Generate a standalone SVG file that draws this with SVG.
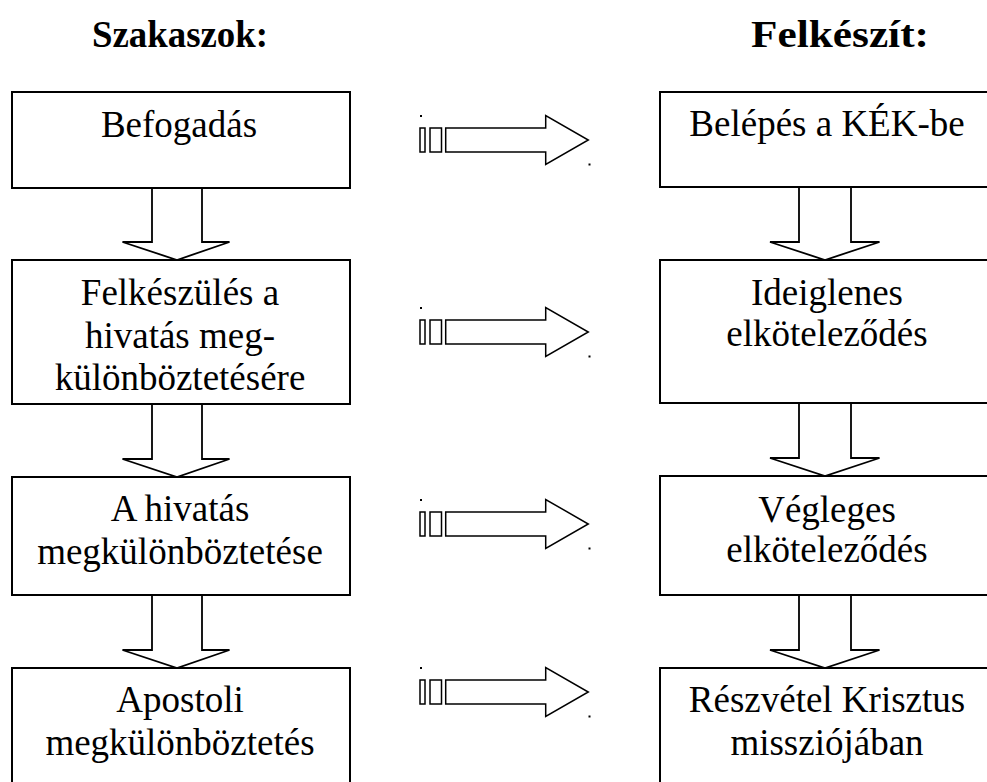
<svg xmlns="http://www.w3.org/2000/svg" width="987" height="782" viewBox="0 0 987 782">
<style>
.box{fill:#fff;stroke:#000;stroke-width:2}
.t{font-family:"Liberation Serif","Times New Roman",serif;font-size:37px;fill:#000;text-anchor:middle}
.h{font-family:"Liberation Serif","Times New Roman",serif;font-size:38px;font-weight:bold;fill:#000;text-anchor:middle}
.dn{fill:#fff;stroke:#000;stroke-width:1.8;stroke-linejoin:miter}
.ra{fill:#fff;stroke:#000;stroke-width:1.5}
</style>
<defs>
<g id="rarrow">
<rect class="ra" x="420" y="-12" width="5" height="24"/>
<rect class="ra" x="430" y="-12" width="11.5" height="24"/>
<path class="ra" d="M445.7,-12 H545.7 V-24.5 L588.3,0 L545.7,24.5 V12 H445.7 Z"/>
<rect x="420" y="-25" width="2" height="2" fill="#000"/>
<rect x="588.5" y="23.5" width="2" height="2" fill="#000"/>
</g>
</defs>
<rect width="987" height="782" fill="#fff"/>
<text class="h" x="180" y="47" textLength="176" lengthAdjust="spacingAndGlyphs">Szakaszok:</text>
<text class="h" x="840" y="47" textLength="178" lengthAdjust="spacingAndGlyphs">Felkészít:</text>

<g id="connectors">
<path class="dn" d="M152,188 V242 H122.5 L177,260 L229.5,242 H202 V188"/>
<path class="dn" d="M152,404 V459 H122.5 L177,477 L229.5,459 H202 V404"/>
<path class="dn" d="M152,595 V650 H122.5 L177,668 L229.5,650 H202 V595"/>
<path class="dn" d="M799,187 V242 H770 L825,260 L879.5,242 H851 V187"/>
<path class="dn" d="M799,403 V458 H770 L825,476 L879.5,458 H851 V403"/>
<path class="dn" d="M799,595 V650 H770 L825,668 L879.5,650 H851 V595"/>
<use href="#rarrow" y="140"/>
<use href="#rarrow" y="332"/>
<use href="#rarrow" y="524"/>
<use href="#rarrow" y="692"/>
</g>

<g id="l1"><rect class="box" x="12" y="92" width="338" height="96"/><text class="t" x="179" y="137">Befogadás</text></g>
<g id="l2"><rect class="box" x="12" y="260" width="338" height="144"/><text class="t" x="180" y="305">Felkészülés a</text><text class="t" x="180" y="348">hivatás meg-</text><text class="t" x="180" y="390">különböztetésére</text></g>
<g id="l3"><rect class="box" x="12" y="477" width="338" height="118"/><text class="t" x="180" y="521">A hivatás</text><text class="t" x="180" y="564">megkülönböztetése</text></g>
<g id="l4"><rect class="box" x="12" y="668" width="338" height="140"/><text class="t" x="180" y="712">Apostoli</text><text class="t" x="180" y="755">megkülönböztetés</text></g>

<g id="r1"><rect class="box" x="660" y="92" width="340" height="95"/><text class="t" x="827" y="136">Belépés a KÉK-be</text></g>
<g id="r2"><rect class="box" x="660" y="260" width="340" height="143"/><text class="t" x="827" y="305">Ideiglenes</text><text class="t" x="827" y="346">elköteleződés</text></g>
<g id="r3"><rect class="box" x="660" y="476" width="340" height="119"/><text class="t" x="827" y="522">Végleges</text><text class="t" x="827" y="562">elköteleződés</text></g>
<g id="r4"><rect class="box" x="660" y="668" width="340" height="140"/><text class="t" x="827" y="712">Részvétel Krisztus</text><text class="t" x="827" y="755">missziójában</text></g>
</svg>
